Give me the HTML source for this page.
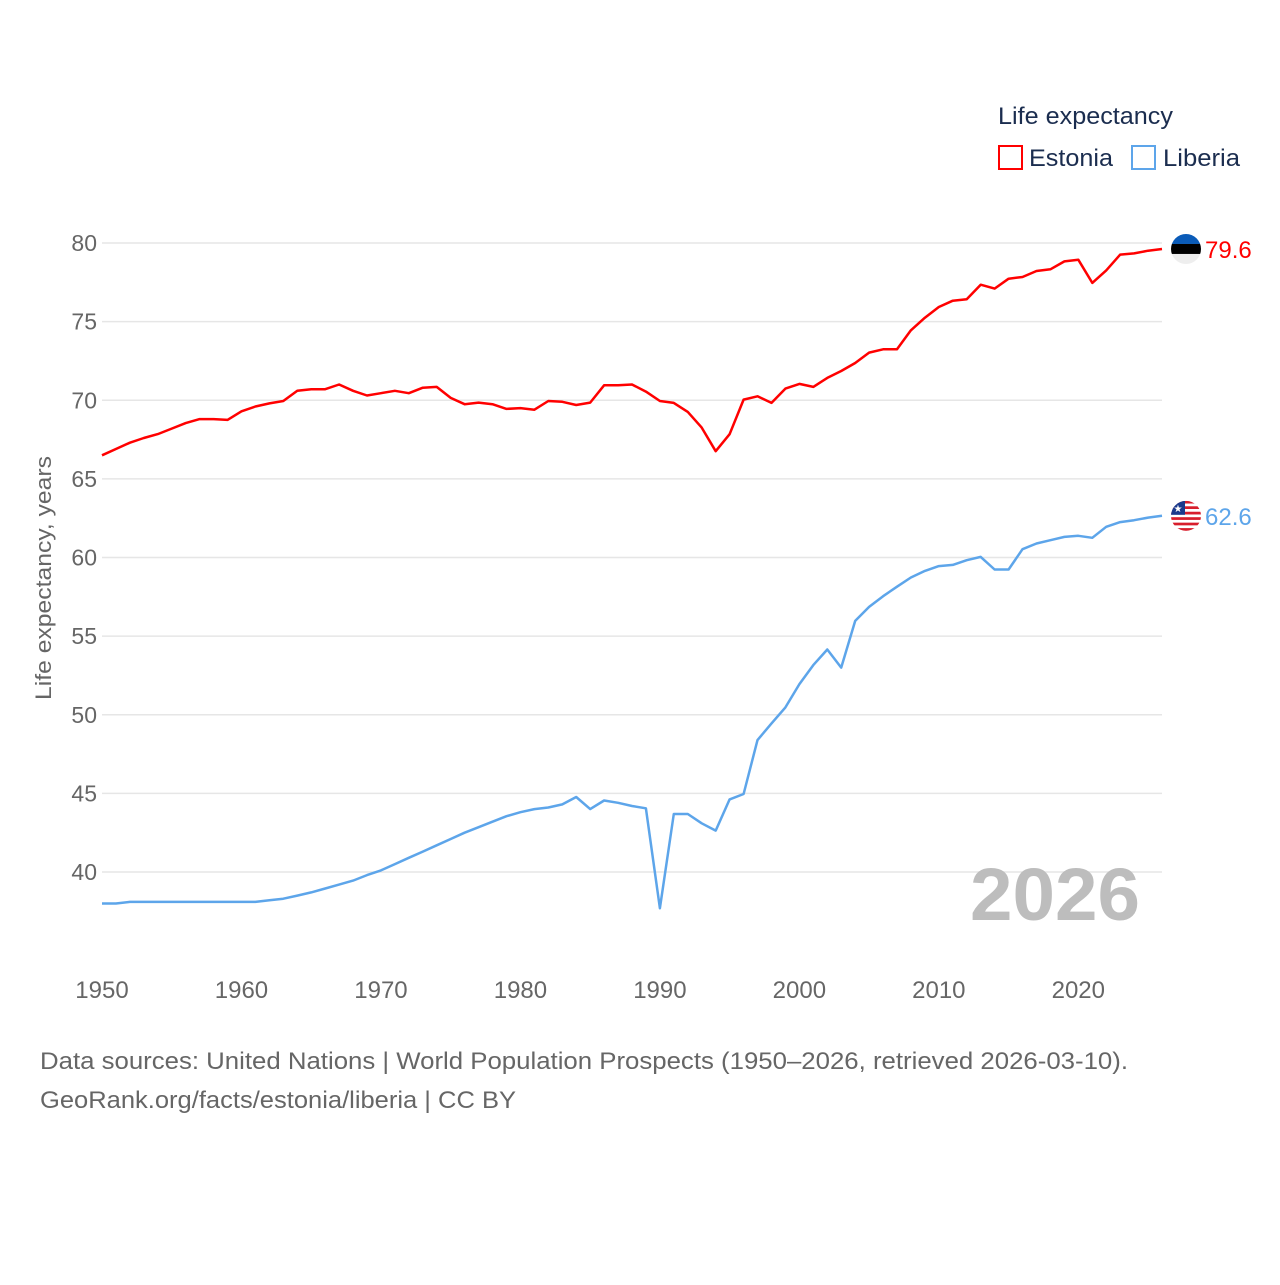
<!DOCTYPE html>
<html><head><meta charset="utf-8"><style>
html,body{margin:0;padding:0;background:#fff;}
body{width:1280px;height:1280px;overflow:hidden;font-family:"Liberation Sans",sans-serif;}
</style></head><body>
<svg id="chart" width="1280" height="1280" xmlns="http://www.w3.org/2000/svg" font-family="Liberation Sans, sans-serif">
<g id="grid"></g>
<g id="yticks"></g>
<g id="xticks"></g>
<text transform="translate(51,578) rotate(-90)" text-anchor="middle" font-size="22" fill="#666" textLength="244" lengthAdjust="spacingAndGlyphs">Life expectancy, years</text>
<text x="1140" y="920" text-anchor="end" font-size="74" font-weight="bold" fill="#bdbdbd" textLength="170" lengthAdjust="spacingAndGlyphs">2026</text>
<g id="lines"></g>
<g>
<text x="998" y="124" font-size="24" fill="#1b2d4f" textLength="175" lengthAdjust="spacingAndGlyphs">Life expectancy</text>
<g><rect x="999" y="146" width="23" height="23" fill="none" stroke="#ff0000" stroke-width="2"/><text x="1029" y="166" font-size="24" fill="#1b2d4f" textLength="84" lengthAdjust="spacingAndGlyphs">Estonia</text></g>
<g><rect x="1132" y="146" width="23" height="23" fill="none" stroke="#5da5ea" stroke-width="2"/><text x="1163" y="166" font-size="24" fill="#1b2d4f" textLength="77" lengthAdjust="spacingAndGlyphs">Liberia</text></g>
</g>
<text x="40" y="1069" font-size="24" fill="#666" textLength="1088" lengthAdjust="spacingAndGlyphs">Data sources: United Nations | World Population Prospects (1950–2026, retrieved 2026-03-10).</text>
<text x="40" y="1108" font-size="24" fill="#666" textLength="476" lengthAdjust="spacingAndGlyphs">GeoRank.org/facts/estonia/liberia | CC BY</text>
</svg>
<script>
const years = [];
for (let y = 1950; y <= 2026; y++) years.push(y);
const estonia = [66.5,66.9,67.3,67.6,67.85,68.2,68.55,68.8,68.8,68.75,69.3,69.6,69.8,69.95,70.6,70.7,70.7,71.0,70.6,70.3,70.45,70.6,70.45,70.8,70.85,70.15,69.75,69.85,69.75,69.45,69.5,69.4,69.95,69.9,69.7,69.85,70.95,70.95,71.0,70.55,69.95,69.83,69.26,68.26,66.76,67.84,70.04,70.25,69.83,70.74,71.04,70.85,71.42,71.86,72.37,73.03,73.24,73.24,74.45,75.25,75.93,76.33,76.42,77.35,77.1,77.73,77.84,78.22,78.33,78.83,78.94,77.46,78.26,79.26,79.34,79.51,79.62];
const liberia = [38.0,38.0,38.1,38.1,38.1,38.1,38.1,38.1,38.1,38.1,38.1,38.1,38.2,38.3,38.5,38.7,38.95,39.2,39.45,39.8,40.1,40.5,40.9,41.3,41.7,42.1,42.5,42.85,43.2,43.55,43.8,44.0,44.1,44.3,44.77,44.0,44.55,44.4,44.2,44.05,37.7,43.69,43.69,43.1,42.63,44.62,44.96,48.39,49.45,50.47,51.95,53.16,54.15,53.0,55.97,56.86,57.54,58.14,58.73,59.15,59.45,59.53,59.83,60.04,59.24,59.24,60.53,60.89,61.1,61.31,61.38,61.25,61.95,62.25,62.37,62.54,62.65];
const yTicks = [40,45,50,55,60,65,70,75,80];
const xTicks = [1950,1960,1970,1980,1990,2000,2010,2020];

const NS = "http://www.w3.org/2000/svg";
const X0 = 102, X1 = 1162, YR0 = 1950, YR1 = 2026;
const xs = v => X0 + (v - YR0) * (X1 - X0) / (YR1 - YR0);
const ys = v => 243 + (80 - v) * (872 - 243) / 40;
function mk(tag, attrs, parent) {
  const e = document.createElementNS(NS, tag);
  for (const k in attrs) e.setAttribute(k, attrs[k]);
  parent.appendChild(e);
  return e;
}
const grid = document.getElementById('grid'), yt = document.getElementById('yticks'), xt = document.getElementById('xticks'), lines = document.getElementById('lines');
yTicks.forEach(t => {
  const l = mk('line', {x1: X0, x2: X1, y1: ys(t), y2: ys(t), stroke: '#e6e6e6', 'stroke-width': 1.5}, grid);
  
  
  const tx = mk('text', {x: 97, y: ys(t) + 8, 'text-anchor': 'end', 'font-size': 23, fill: '#666'}, yt);
  tx.textContent = t;
  
  
});
xTicks.forEach(t => {
  const tx = mk('text', {x: xs(t), y: 998, 'text-anchor': 'middle', 'font-size': 24, fill: '#666'}, xt);
  tx.textContent = t;
  
  
});
function series(vals, color, name) {
  const d = vals.map((v, i) => (i ? 'L' : 'M') + xs(years[i]).toFixed(1) + ',' + ys(v).toFixed(1)).join('');
  const p = mk('path', {d: d, fill: 'none', stroke: color, 'stroke-width': 2.5, 'stroke-linejoin': 'round'}, lines);
  
  
  const last = vals[vals.length - 1];
  const lb = mk('text', {x: 1205, y: ys(last) + 9, 'font-size': 24, fill: color}, lines);
  lb.textContent = last.toFixed(1);
  
  
  return ys(last);
}
const ye = series(estonia, '#ff0000', 'estonia');
const yl = series(liberia, '#5da5ea', 'liberia');
const cx = 1186;
// Estonia flag
const fe = mk('g', {}, lines);


const cpe = mk('clipPath', {id: 'ce'}, fe);
mk('circle', {cx: cx, cy: ye, r: 15}, cpe);
const ge = mk('g', {'clip-path': 'url(#ce)'}, fe);
mk('rect', {x: cx - 15, y: ye - 15, width: 30, height: 10, fill: '#0a5bb8'}, ge);
mk('rect', {x: cx - 15, y: ye - 5, width: 30, height: 10, fill: '#000'}, ge);
mk('rect', {x: cx - 15, y: ye + 5, width: 30, height: 10, fill: '#eee'}, ge);
// Liberia flag
const fl = mk('g', {}, lines);


const cp = mk('clipPath', {id: 'cl'}, fl);
mk('circle', {cx: cx, cy: yl, r: 15}, cp);
const gl = mk('g', {'clip-path': 'url(#cl)'}, fl);
for (let i = 0; i < 11; i++) mk('rect', {x: cx - 15, y: yl - 15 + i * 30 / 11, width: 30, height: 30 / 11 + 0.1, fill: i % 2 ? '#fff' : '#d81e2c'}, gl);
mk('rect', {x: cx - 15, y: yl - 15, width: 14, height: 14, fill: '#1b3a8c'}, gl);
const st = mk('text', {x: cx - 8, y: yl - 4, 'text-anchor': 'middle', 'font-size': 10, fill: '#fff'}, gl);
st.textContent = '★';
</script>
</body></html>
